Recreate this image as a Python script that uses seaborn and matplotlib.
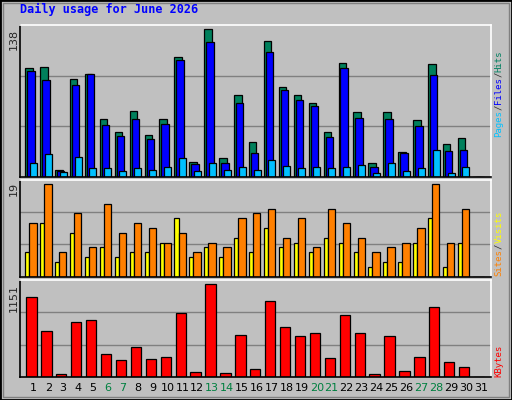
import numpy as np
import pandas as pd
import matplotlib
matplotlib.use("Agg")
import matplotlib.pyplot as plt
import seaborn as sns
from matplotlib.patches import Rectangle

days = list(range(1, 32))
hits  = [102,103,6,91,96,54,42,61,39,54,112,14,138,17,76,32,127,84,76,69,42,106,60,13,60,23,53,105,30,36,0]
files = [99,90,5,86,96,48,38,54,35,49,109,12,126,13,69,22,117,81,72,66,37,102,55,9,54,22,47,95,24,25,0]
pages = [13,21,4,18,8,8,5,8,6,9,17,5,13,6,9,6,15,10,8,9,8,9,11,3,13,5,8,25,3,9,0]
sites  = [5,11,3,9,4,6,4,5,5,7,12,4,6,4,8,5,10,6,7,5,8,7,5,2,3,3,7,12,2,7,0]
visits = [11,19,5,13,6,15,9,11,10,7,9,5,7,6,12,13,14,8,12,6,14,11,8,5,6,7,10,19,7,14,0]
kbytes = [987,571,42,685,710,281,206,370,218,244,798,67,1151,55,521,105,949,622,508,546,231,773,546,42,508,80,244,874,181,130,0]
weekend = [6,7,13,14,20,21,27,28]

sns.set_style("white")
plt.rcParams['font.family'] = ['DejaVu Sans Mono', 'DejaVu Sans']

BG = "#C0C0C0"
fig = plt.figure(figsize=(5.12, 4.0), dpi=100, facecolor=BG)
fig.patches.append(Rectangle((0, 0), 1, 1, transform=fig.transFigure, fill=False, edgecolor="black", lw=2))
fig.patches.append(Rectangle((3/512, 3/400), 506/512, 394/400, transform=fig.transFigure, fill=False, edgecolor="#808080", lw=1))

def mkax(top, bot):
    ax = fig.add_axes([20/512, (400-bot)/400, 471/512, (bot-top)/400])
    ax.set_facecolor(BG)
    for s in ["left", "bottom"]:
        ax.spines[s].set_color("black")
    for s in ["top", "right"]:
        ax.spines[s].set_color("white")
    for sp in ax.spines.values():
        sp.set_linewidth(1.2)
    return ax

ax1 = mkax(25, 176.5)
ax2 = mkax(180, 276.5)
ax3 = mkax(280, 377)
d = np.array(days, dtype=float)

def bars(ax, x, y, color, width):
    df = pd.DataFrame({"x": x, "y": y})
    sns.barplot(data=df, x="x", y="y", native_scale=True, color=color, width=width,
                edgecolor="black", linewidth=0.9, saturation=1, ax=ax, orient="v", errorbar=None)

for ax, top in [(ax1, 142), (ax2, 19.9), (ax3, 1204)]:
    ax.set_ylim(0, top)
    for f in (1/3, 2/3):
        ax.axhline(top * f, color="#808080", lw=1, zorder=0)

bars(ax1, d - 0.29, hits, "#00805C", 0.5)
bars(ax1, d - 0.16, files, "#0000FF", 0.5)
bars(ax1, d + 0.0, pages, "#00C0FF", 0.47)
bars(ax2, d - 0.40, sites, "#FFFF00", 0.27)
bars(ax2, d - 0.02, visits, "#FF8000", 0.49)
bars(ax3, d - 0.12, kbytes, "#FF0000", 0.69)

for ax in (ax1, ax2, ax3):
    ax.set_xlim(0.11, 31.68)
    ax.set_xlabel(""); ax.set_ylabel("")
    ax.set_xticks([]); ax.set_yticks([])

for dd in days:
    ax3.text(dd, -0.06, str(dd), transform=ax3.get_xaxis_transform(), ha="center", va="top",
             fontsize=8, family="DejaVu Sans", color="#008040" if dd in weekend else "black")

fig.text(20/512, 1 - 9/400, "Daily usage for June 2026", color="#0000FF", fontsize=8.5,
         fontweight="bold", va="center", ha="left")

fs = 8
fig.text(14/512, 1 - 29/400, "138", rotation=90, ha="center", va="top", fontsize=fs, family="DejaVu Sans")
fig.text(14/512, 1 - 182/400, "19", rotation=90, ha="center", va="top", fontsize=fs, family="DejaVu Sans")
fig.text(14/512, 1 - 284/400, "1151", rotation=90, ha="center", va="top", fontsize=fs, family="DejaVu Sans")

lfs = 6.5
step = 0.602 * lfs * 100 / 72
def vlabel(parts, ybot):
    y = ybot
    for txt, col in parts:
        fig.text(499/512, 1 - y/400, txt, rotation=90, ha="center", va="bottom",
                 fontsize=lfs, color=col, rotation_mode="anchor" if False else "default")
        y -= len(txt) * step
vlabel([("Pages", "#00C0FF"), ("/", "#333333"), ("Files", "#0000FF"), ("/", "#333333"), ("Hits", "#008060")], 137)
vlabel([("Sites", "#FF8000"), ("/", "#333333"), ("Visits", "#FFFF00")], 276)
vlabel([("KBytes", "#FF0000")], 377)

fig.savefig("out.png", dpi=100, facecolor=BG)
